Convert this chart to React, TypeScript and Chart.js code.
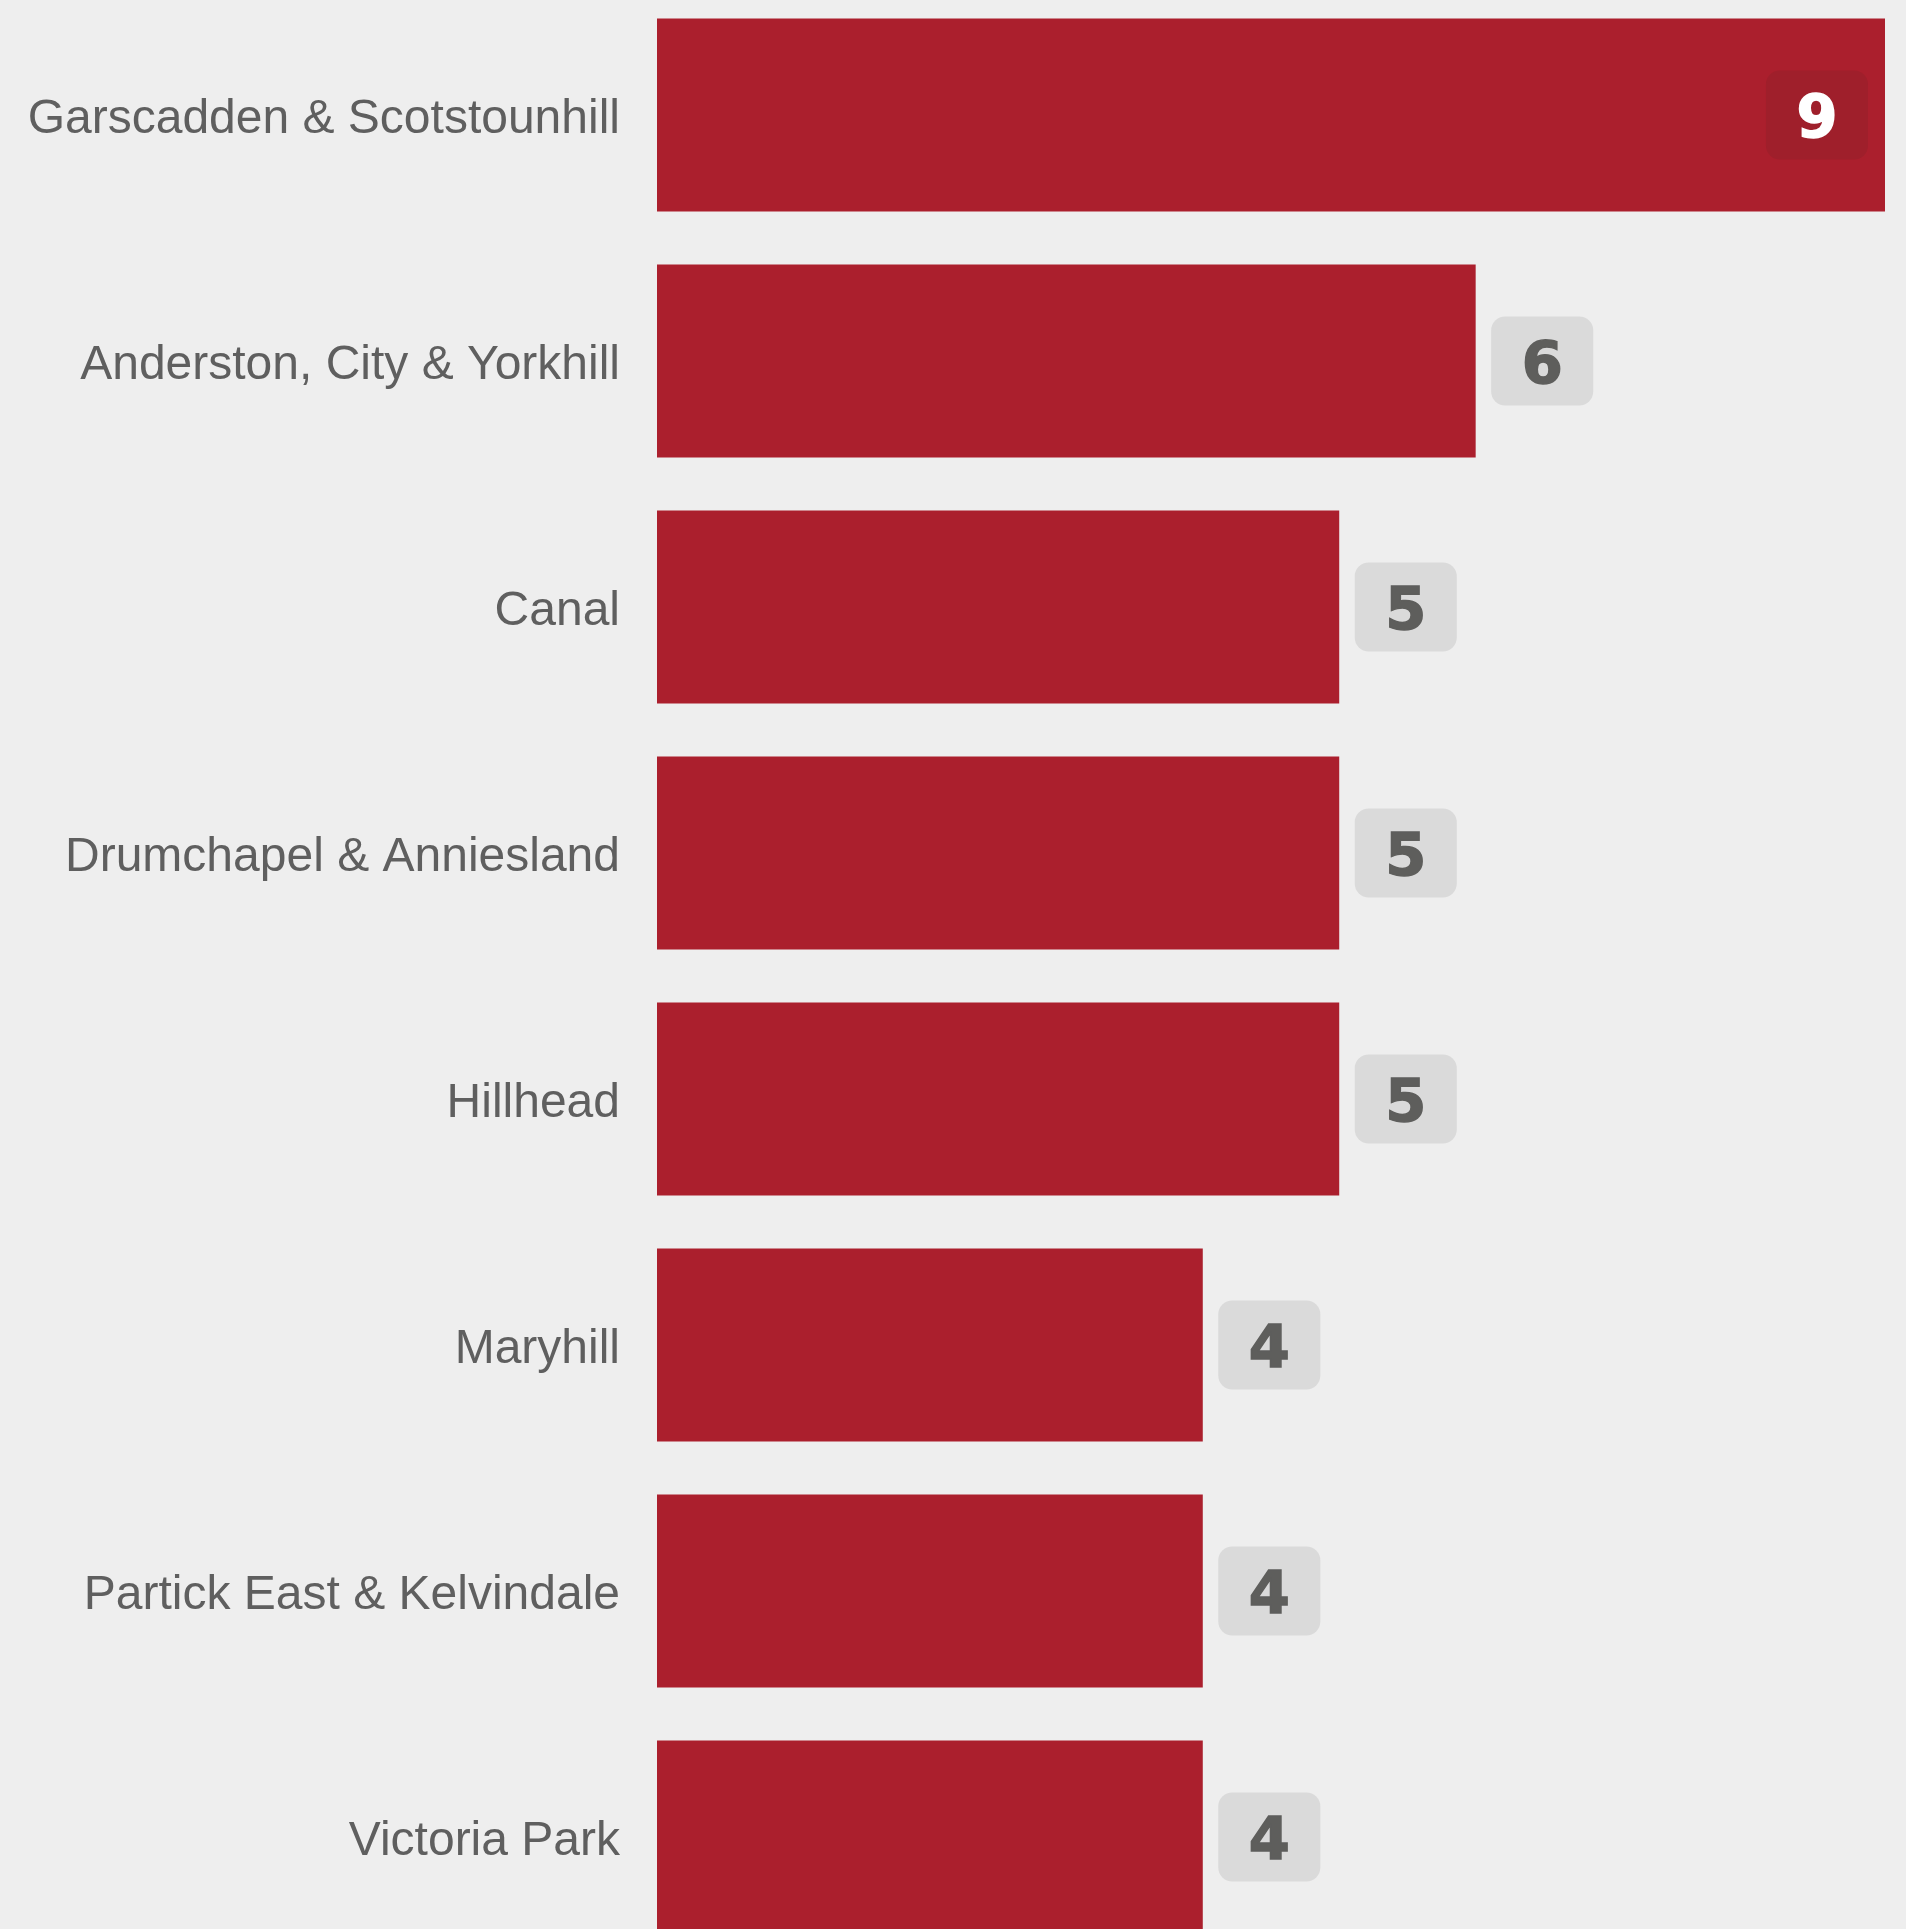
import React, { useEffect, useRef } from 'react';
import { Chart, registerables } from 'chart.js';

Chart.register(...registerables);

const categories: string[] = [
  'Garscadden & Scotstounhill',
  'Anderston, City & Yorkhill',
  'Canal',
  'Drumchapel & Anniesland',
  'Hillhead',
  'Maryhill',
  'Partick East & Kelvindale',
  'Victoria Park',
];
const values: number[] = [9, 6, 5, 5, 5, 4, 4, 4];
const axisMax = 9;

const BAR_COLOR = '#ab1f2d';
const BG = '#eeeeee';
const LABEL_COLOR = '#5f5f5f';

const badgePlugin = {
  id: 'badges',
  afterDatasetsDraw(chart: any) {
    const ctx = chart.ctx as CanvasRenderingContext2D;
    const meta = chart.getDatasetMeta(0);
    const area = chart.chartArea;
    ctx.save();
    ctx.font = 'bold 59px "DejaVu Sans", sans-serif';
    meta.data.forEach((bar: any, i: number) => {
      const txt = String(values[i]);
      const tw = ctx.measureText(txt).width;
      const w = tw + 61;
      const h = 89;
      let x = bar.x + 15.5;
      let inside = false;
      if (x + w > area.right) {
        x = bar.x - 17 - w;
        inside = true;
      }
      const y = bar.y - h / 2;
      ctx.fillStyle = inside ? '#9f1f2b' : '#dadada';
      ctx.beginPath();
      (ctx as any).roundRect(x, y, w, h, 14);
      ctx.fill();
      ctx.fillStyle = inside ? '#ffffff' : '#5e5e5c';
      ctx.strokeStyle = ctx.fillStyle;
      ctx.lineWidth = 1.5;
      ctx.textAlign = 'center';
      ctx.textBaseline = 'alphabetic';
      ctx.fillText(txt, x + w / 2, bar.y + 21.5);
      ctx.strokeText(txt, x + w / 2, bar.y + 21.5);
    });
    ctx.restore();
  },
};

export default function App() {
  const ref = useRef<HTMLCanvasElement | null>(null);
  useEffect(() => {
    if (!ref.current) return;
    const chart = new Chart(ref.current, {
      type: 'bar',
      data: {
        labels: categories,
        datasets: [
          {
            data: values,
            backgroundColor: BAR_COLOR,
            borderWidth: 0,
            categoryPercentage: 1,
            barPercentage: 193 / 246,
          },
        ],
      },
      options: {
        indexAxis: 'y',
        responsive: false,
        animation: false,
        devicePixelRatio: 1,
        layout: { padding: { left: 0, right: 21, top: 0, bottom: 0 } },
        plugins: {
          legend: { display: false },
          tooltip: { enabled: false },
        },
        scales: {
          x: { display: false, min: 0, max: axisMax },
          y: {
            grid: { display: false, drawTicks: false },
            border: { display: false },
            ticks: {
              padding: 37,
              color: LABEL_COLOR,
              font: {
                family: '"Liberation Sans", Arial, sans-serif',
                size: 48,
                lineHeight: 10 / 48,
              },
              callback(_v: any, i: number) {
                return ['', categories[i]];
              },
            },
            afterFit(scale: any) {
              scale.width = 657;
              scale.paddingTop = 0;
              scale.paddingBottom = 0;
            },
          },
        },
      },
      plugins: [badgePlugin],
    });
    return () => chart.destroy();
  }, []);
  return (
    <div
      style={{
        position: 'absolute',
        left: 0,
        top: 0,
        width: 1906,
        height: 1929,
        overflow: 'hidden',
        background: BG,
      }}
    >
      <canvas
        ref={ref}
        width={1906}
        height={1968}
        style={{ position: 'absolute', left: 0, top: -8, width: 1906, height: 1968 }}
      />
    </div>
  );
}
